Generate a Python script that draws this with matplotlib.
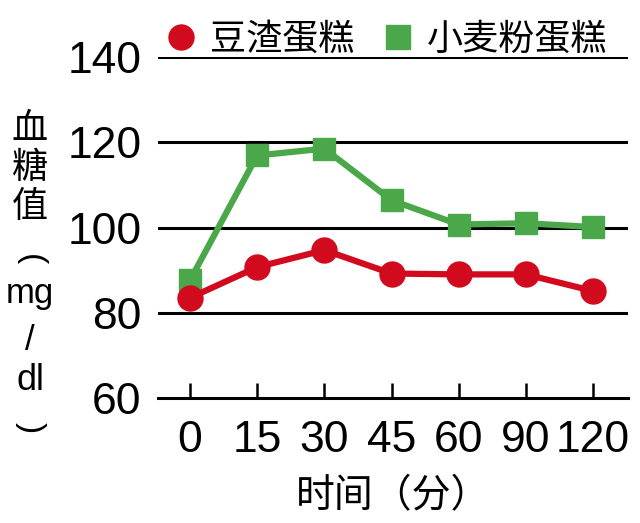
import matplotlib
matplotlib.use("Agg")
import matplotlib.pyplot as plt
from matplotlib.lines import Line2D

plt.rcParams["font.family"] = ["Liberation Sans", "Noto Sans CJK SC", "DejaVu Sans"]

# data
times = ["0", "15", "30", "45", "60", "90", "120"]
okara_cake = [83.5, 90.7, 94.7, 89.2, 89.0, 89.0, 85.1]
wheat_cake = [87.6, 116.9, 118.5, 106.4, 100.7, 101.0, 100.1]
series_names = ["豆渣蛋糕", "小麦粉蛋糕"]
y_ticks = [60, 80, 100, 120, 140]
ylabel_parts = ["血", "糖", "值", "(", "mg", "/", "dl", ")"]

RED = "#d20a1e"
GREEN = "#4aa84a"

fig = plt.figure(figsize=(6.4, 5.23), dpi=100)
ax = fig.add_axes([158 / 640, 1 - 398 / 523, 470 / 640, (398 - 57) / 523])

x = range(len(times))
ax.plot(x, wheat_cake, color=GREEN, lw=4.5, marker="s", ms=16,
        clip_on=False, zorder=3)
ax.plot(x, okara_cake, color=RED, lw=4.5, marker="o", ms=18,
        clip_on=False, zorder=4)

ax.set_ylim(60, 140)
ax.set_xlim(-0.476, 6.52)
ax.set_yticks(y_ticks)
ax.set_xticks(list(x))
ax.set_xticklabels(times)

for v in y_ticks[1:]:
    ax.axhline(v, color="black", lw=2.2, zorder=1)

for s in ["left", "right", "top"]:
    ax.spines[s].set_visible(False)
ax.spines["bottom"].set_linewidth(2.2)

ax.tick_params(axis="y", length=0, pad=12, labelsize=32)
ax.tick_params(axis="x", direction="in", length=11, width=1.8,
               pad=16, labelsize=32)

ax.set_xlabel("时间（分）", fontsize=28, labelpad=12)

# vertical y label, stacked characters (brackets turned for vertical text)
ypos = [130, 168, 207, 260, 293, 340, 380, 428]
sizes = [26, 26, 26, 24, 25, 25, 26, 24]
for part, yp, fs in zip(ylabel_parts, ypos, sizes):
    rot = -90 if part in "()" else 0
    fig.text(30 / 640, 1 - yp / 523, part, fontsize=fs, rotation=rot,
             ha="center", va="center")

handles = [
    Line2D([], [], color=RED, marker="o", ls="none", ms=18),
    Line2D([], [], color=GREEN, marker="s", ls="none", ms=17),
]
ax.legend(handles, series_names, loc="lower left",
          bbox_to_anchor=(-0.02, 0.955), ncol=2, frameon=False,
          fontsize=26, handletextpad=0.3, columnspacing=0.7,
          borderaxespad=0, handlelength=1.0)

fig.savefig("out.png", dpi=100)
